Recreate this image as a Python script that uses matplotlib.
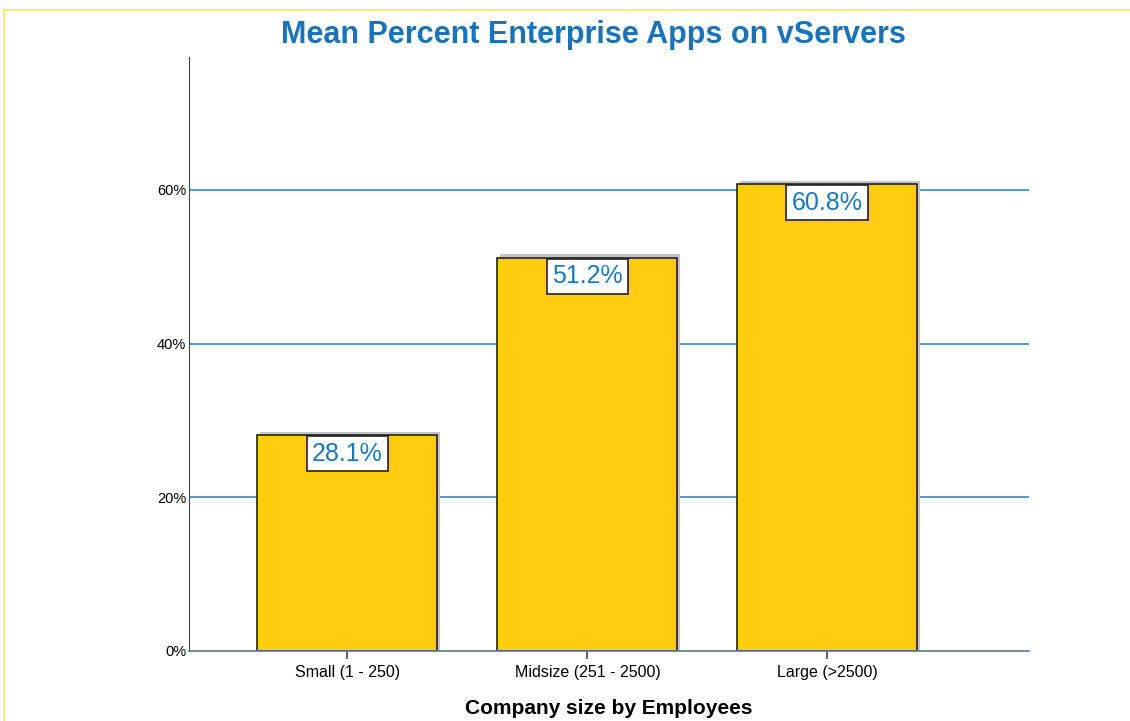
import matplotlib.pyplot as plt
from matplotlib.lines import Line2D

categories = ['Small (1 - 250)', 'Midsize (251 - 2500)', 'Large (>2500)']
means = [28.1, 51.2, 60.8]
yticks = [0, 20, 40, 60]

plt.rcParams['font.family'] = ['Liberation Sans', 'DejaVu Sans']

fig = plt.figure(figsize=(11.3, 7.21), dpi=100)
W, H = 1130, 721
ax = fig.add_axes([189 / W, 1 - 651 / H, 840 / W, (651 - 57) / H])

# yellow frame lines (top and left)
fig.add_artist(Line2D([4 / W, 1], [1 - 10 / H, 1 - 10 / H], color='#fde97a', lw=1.5))
fig.add_artist(Line2D([4 / W, 4 / W], [0, 1 - 10 / H], color='#fde97a', lw=1.5))

x = list(range(len(categories)))
for y in yticks[1:]:
    ax.axhline(y, color='#3a87c6', lw=1.2, zorder=0)

# shadow bars
ax.bar([i + 0.012 for i in x], [m + 0.4 for m in means], width=0.75, color='#c4c4c4', zorder=1)
ax.bar(x, means, width=0.75, color='#fecd0f', edgecolor='#222222', lw=1.2, zorder=2)

for i, m in zip(x, means):
    ax.text(i, m - 0.9, f'{m:.1f}%', ha='center', va='top', fontsize=18,
            color='#1a78bf', zorder=3,
            bbox=dict(boxstyle='square,pad=0.22', fc='white', ec='#222222', lw=1.2))

ax.set_xlim(-0.66, 2.84)
ax.set_ylim(0, 77.3)
ax.set_yticks(yticks)
ax.set_yticklabels([f'{t}%' for t in yticks], fontsize=10.5)
ax.set_xticks(x)
ax.set_xticklabels(categories, fontsize=11.5)
ax.tick_params(axis='y', length=0, pad=2)
ax.tick_params(axis='x', length=6, width=1.2, color='#444444', pad=4)
for s in ['top', 'right']:
    ax.spines[s].set_visible(False)
ax.spines['left'].set_color('#444444')
ax.spines['bottom'].set_color('#5a7a95')
ax.spines['bottom'].set_linewidth(1.2)

ax.set_xlabel('Company size by Employees', fontsize=15, fontweight='bold', labelpad=14)
fig.text(593 / W, 1 - 35 / H, 'Mean Percent Enterprise Apps on vServers', ha='center', va='center',
         fontsize=22, fontweight='bold', color='#1a73b9')

fig.savefig('out.png', dpi=100)
